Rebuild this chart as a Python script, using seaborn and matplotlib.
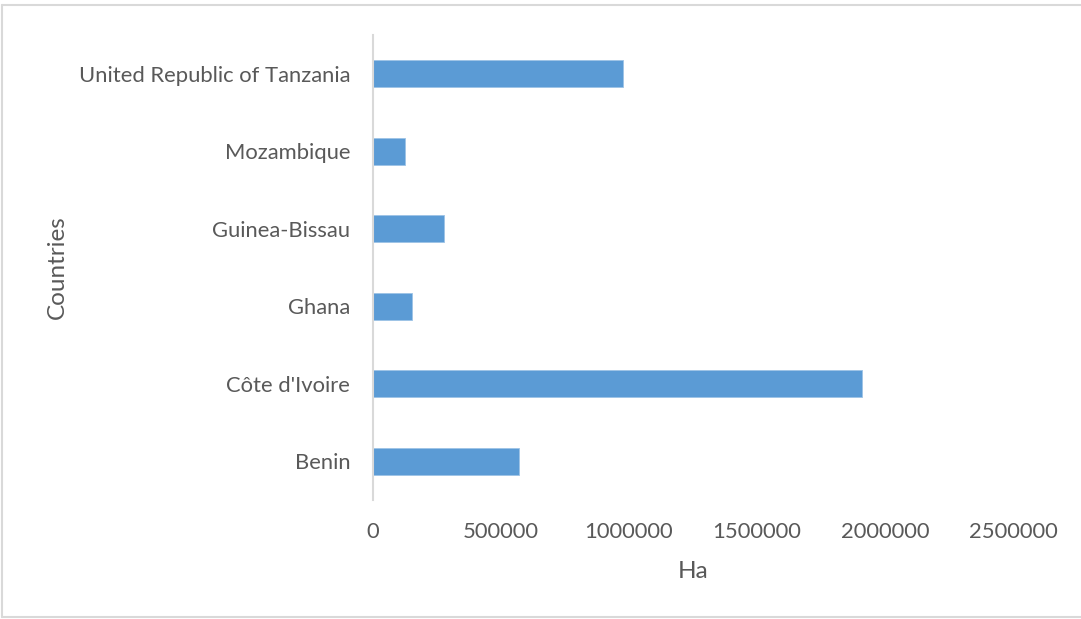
import matplotlib
matplotlib.use("Agg")
import matplotlib.pyplot as plt
from matplotlib.lines import Line2D
import seaborn as sns
import pandas as pd

countries = ["United Republic of Tanzania", "Mozambique", "Guinea-Bissau",
             "Ghana", "Côte d'Ivoire", "Benin"]
hectares = [977000, 125000, 278000, 156000, 1912000, 571000]
x_ticks = [0, 500000, 1000000, 1500000, 2000000, 2500000]

df = pd.DataFrame({"Countries": countries, "Ha": hectares})

sns.set_theme(style="white")
plt.rcParams["font.family"] = ["Lato", "DejaVu Sans"]
text_color = "#595959"

fig = plt.figure(figsize=(10.81, 6.19), dpi=100)
ax = fig.add_axes([0.3446, 0.1918, 0.5925, 0.752])

sns.barplot(data=df, x="Ha", y="Countries", order=countries, orient="h",
            color="#5B9BD5", saturation=1, width=0.35, ax=ax,
            edgecolor="#9DC3E6", linewidth=0.6)

ax.set_xlim(0, 2500000)
ax.set_xticks(x_ticks)
ax.set_xticklabels([str(v) for v in x_ticks])
ax.tick_params(axis="both", length=0, labelsize=15.8, colors=text_color)
ax.tick_params(axis="y", pad=16)
ax.tick_params(axis="x", pad=16)
for s in ["top", "right", "bottom"]:
    ax.spines[s].set_visible(False)
ax.spines["left"].set_color("#D9D9D9")
ax.spines["left"].set_linewidth(1.5)
ax.set_xlabel("Ha", fontsize=17.5, color=text_color, labelpad=13)
ax.set_ylabel("Countries", fontsize=17.5, color=text_color, labelpad=8)

# outer chart frame
for xs, ys in [([0.002, 1.0], [0.992, 0.992]),
               ([0.002, 0.002], [0.003, 0.992]),
               ([0.002, 1.0], [0.003, 0.003])]:
    fig.add_artist(Line2D(xs, ys, transform=fig.transFigure,
                          color="#D9D9D9", linewidth=1.5))

fig.savefig("out.png", dpi=100)
